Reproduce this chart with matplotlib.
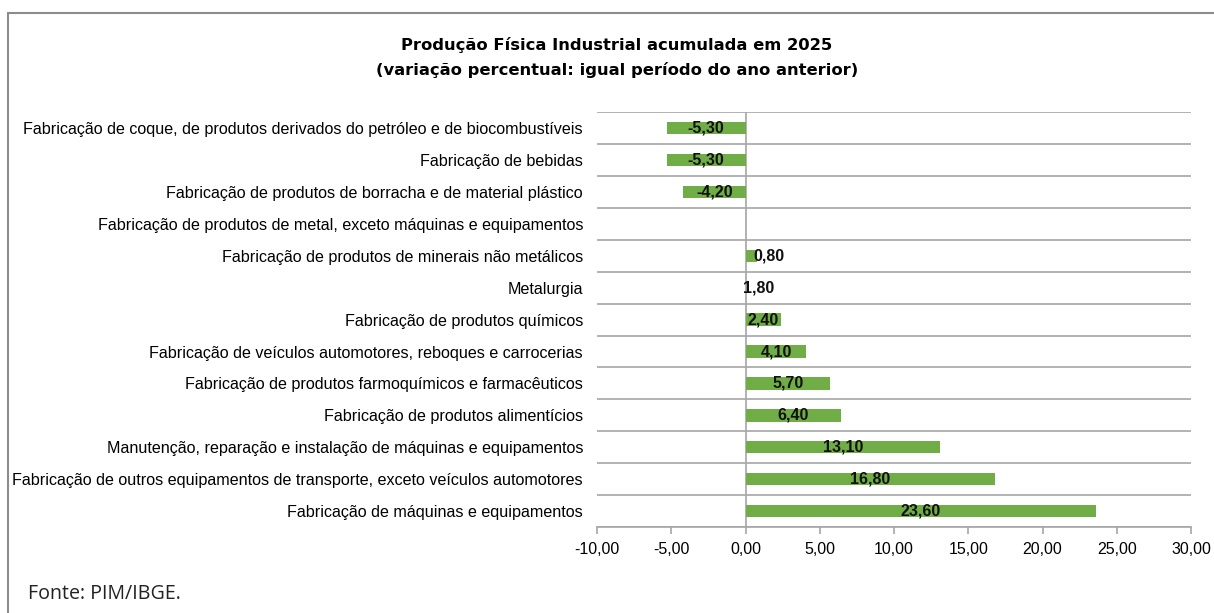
import numpy as np
import matplotlib
matplotlib.use("Agg")
import matplotlib.pyplot as plt

# dados (variação % acumulada no ano)
categorias = [
    "Fabricação de coque, de produtos derivados do petróleo e de biocombustíveis",
    "Fabricação de bebidas",
    "Fabricação de produtos de borracha e de material plástico",
    "Fabricação de produtos de metal, exceto máquinas e equipamentos",
    "Fabricação de produtos de minerais não metálicos",
    "Metalurgia",
    "Fabricação de produtos químicos",
    "Fabricação de veículos automotores, reboques e carrocerias",
    "Fabricação de produtos farmoquímicos e farmacêuticos",
    "Fabricação de produtos alimentícios",
    "Manutenção, reparação e instalação de máquinas e equipamentos",
    "Fabricação de outros equipamentos de transporte, exceto veículos automotores",
    "Fabricação de máquinas e equipamentos",
]
valores = [-5.30, -5.30, -4.20, np.nan, 0.80, 1.80, 2.40, 4.10, 5.70, 6.40, 13.10, 16.80, 23.60]
# no gráfico original a barra de Metalurgia não aparece
mostra_barra = [True, True, True, False, True, False, True, True, True, True, True, True, True]

xticks = [-10, -5, 0, 5, 10, 15, 20, 25, 30]

verde = "#70AD47"
cinza = "#A6A6A6"
fonte = "Liberation Sans"

fig = plt.figure(figsize=(12.14, 6.13), dpi=100)
ax = fig.add_axes([597 / 1214, 1 - 527 / 613, (1191 - 597) / 1214, (527 - 112.3) / 613])

y = np.arange(len(categorias))
barras = [v if (m and not np.isnan(v)) else 0 for v, m in zip(valores, mostra_barra)]
ax.barh(y, barras, height=0.39, color=verde, zorder=3)

# rótulos de valor
for yi, v in zip(y, valores):
    if np.isnan(v):
        continue
    txt = f"{v:.2f}".replace(".", ",")
    if 0 < v < 1:
        ax.text(v / 2 + 0.1, yi, txt, ha="left", va="center", fontsize=11.5,
                fontweight="bold", family=fonte, color="#111111", zorder=4)
    else:
        ax.text(v / 2, yi, txt, ha="center", va="center", fontsize=11.5,
                fontweight="bold", family=fonte, color="#111111", zorder=4)

ax.set_xlim(-10, 30)
ax.set_ylim(len(categorias) - 0.5, -0.5)
ax.set_xticks(xticks)
ax.set_xticklabels([f"{t:.2f}".replace(".", ",") for t in xticks], family=fonte, fontsize=11.5)
ax.set_yticks(y)
ax.set_yticklabels(categorias, family=fonte, fontsize=11.65)
ax.tick_params(axis="y", length=0, pad=10)
ax.tick_params(axis="x", length=5, color=cinza, width=1.2, pad=6)

# linhas horizontais entre categorias
ax.set_yticks(np.arange(-0.5, len(categorias) - 0.4, 1), minor=True)
ax.tick_params(axis="y", which="minor", length=0)
ax.grid(True, axis="y", which="minor", color=cinza, linewidth=1.2, zorder=1)
ax.axvline(0, color=cinza, linewidth=1.2, zorder=2)

for s in ["top", "right", "left"]:
    ax.spines[s].set_visible(False)
ax.spines["bottom"].set_color(cinza)
ax.spines["bottom"].set_linewidth(1.2)

fig.text(617 / 1214, 1 - 45 / 613, "Produção Física Industrial acumulada em 2025",
         ha="center", va="center", fontsize=11.8, fontweight="bold", family="DejaVu Sans")
fig.text(617 / 1214, 1 - 70 / 613, "(variação percentual: igual período do ano anterior)",
         ha="center", va="center", fontsize=11.8, fontweight="bold", family="DejaVu Sans")

fig.text(28 / 1214, 1 - 594 / 613, "Fonte: PIM/IBGE.", ha="left", va="center",
         fontsize=14.1, family="Open Sans", color="#222222")

# moldura
moldura = plt.Rectangle((8 / 1214, -0.05), 1.2, 1 - 13 / 613 + 0.05, transform=fig.transFigure,
                        fill=False, edgecolor="#8c8c8c", linewidth=1.5)
fig.patches.append(moldura)

fig.savefig("out.png", dpi=100)
